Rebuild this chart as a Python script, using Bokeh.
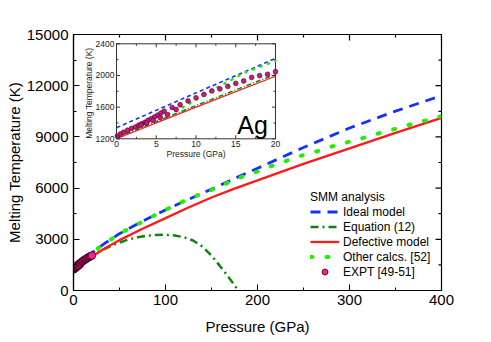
import numpy as np
from bokeh.plotting import figure
from bokeh.models import Range1d, SingleIntervalTicker, Legend, LegendItem
from bokeh.core.properties import value
from bokeh.embed import file_html
from bokeh.resources import INLINE

# ---------------- data ----------------
ideal_p = [0, 10, 20, 35, 50, 75, 100, 125, 150, 175, 200, 250, 300, 350, 400]
ideal_t = [1340, 1780, 2215, 2800, 3330, 4060, 4720, 5340, 5940, 6560, 7160,
           8380, 9520, 10510, 11420]

eq_p = [0, 10, 20, 30, 40, 50, 60, 70, 80, 90, 100, 110, 120, 130, 140, 150,
        160, 170, 179]
eq_t = [1215, 1620, 2015, 2340, 2590, 2810, 2990, 3120, 3210, 3255, 3265, 3225,
        3120, 2930, 2580, 2050, 1380, 680, 0]

defect_p = [0, 10, 20, 35, 50, 75, 100, 125, 150, 175, 200, 250, 300, 350, 400]
defect_t = [1200, 1600, 1990, 2500, 2950, 3620, 4240, 4860, 5450, 5970, 6450,
            7420, 8330, 9240, 10120]

other_p = [0, 4, 8, 12, 16, 20, 30, 40, 55, 70, 85, 100, 115, 130, 150, 165,
           180, 198, 214, 230, 247, 265, 281, 298, 315, 332, 349, 366, 383, 398]
other_t = [1240, 1400, 1580, 1810, 2030, 2185, 2620, 2970, 3475, 3890, 4320,
           4725, 5120, 5480, 5895, 6250, 6600, 6930, 7265, 7575, 7890, 8160,
           8435, 8690, 8940, 9215, 9460, 9725, 9960, 10190]

expt_p = [0.1, 0.5, 0.9, 1.4, 1.9, 2.4, 2.8, 3.2, 3.6, 4.0, 4.4, 4.8, 5.2, 5.6,
          6.0, 3.1, 3.8, 4.6, 5.5, 6.4, 7.0, 7.5, 8.0, 9.0, 10.0, 11.0, 12.0,
          13.0, 14.0, 15.0, 16.0, 17.0, 18.0, 19.0, 20.0]
expt_t = [1235, 1262, 1283, 1308, 1332, 1350, 1372, 1390, 1410, 1435, 1455,
          1478, 1500, 1525, 1550, 1372, 1400, 1432, 1465, 1505, 1595, 1570,
          1630, 1678, 1718, 1760, 1805, 1830, 1862, 1900, 1930, 1975, 1998,
          2015, 2047]

main_xlim = [0, 400]
main_ylim = [0, 15000]
main_xmajor = [0, 100, 200, 300, 400]
main_xminor = [50, 150, 250, 350]
main_ymajor = [0, 3000, 6000, 9000, 12000, 15000]
main_yminor = [1500, 4500, 7500, 10500, 13500]

inset_xlim = [0, 20]
inset_ylim = [1200, 2400]
inset_xmajor = [0, 5, 10, 15, 20]
inset_xminor = [2.5, 7.5, 12.5, 17.5]
inset_ymajor = [1200, 1600, 2000, 2400]
inset_yminor = [1400, 1800, 2200]

FONT = "Liberation Sans"
BLUE = "#1432ff"
DGREEN = "#0a870a"
RED = "#ff1a1a"
LGREEN = "#22ee00"

p = figure(width=475, height=338, x_range=Range1d(*main_xlim),
           y_range=Range1d(*main_ylim), output_backend="svg",
           toolbar_location=None, min_border_left=73, min_border_right=34,
           min_border_top=34, min_border_bottom=48)
p.grid.visible = False
p.outline_line_color = "black"
p.outline_line_width = 1.2
p.background_fill_color = "white"
p.border_fill_color = "white"

p.xaxis.ticker = SingleIntervalTicker(interval=100, num_minor_ticks=2)
p.yaxis.ticker = SingleIntervalTicker(interval=3000, num_minor_ticks=2)
p.xaxis.axis_label = "Pressure (GPa)"
p.yaxis.axis_label = "Melting Temperature (K)"
for ax in (p.xaxis[0], p.yaxis[0]):
    ax.axis_label_text_font = FONT
    ax.axis_label_text_font_size = "15px"
    ax.axis_label_text_font_style = "normal"
    ax.axis_label_text_color = "black"
    ax.major_label_text_font = FONT
    ax.major_label_text_font_size = "15px"
    ax.major_label_text_color = "black"
    ax.major_tick_in = 6
    ax.major_tick_out = 0
    ax.minor_tick_in = 3
    ax.minor_tick_out = 0
    ax.axis_line_width = 1.2
    ax.axis_line_color = "black"
    ax.major_tick_line_color = "black"
    ax.minor_tick_line_color = "black"
    ax.major_label_standoff = 4
p.xaxis.axis_label_standoff = 10
p.yaxis.major_label_standoff = 5
p.yaxis.axis_label_standoff = 1

# mirrored inward ticks on the top and right edges
mt = dict(length_units="screen", line_color="black", line_width=1.2)
for ticks, ln in ((main_xmajor, 6), (main_xminor, 3)):
    p.ray(ticks, [main_ylim[1]] * len(ticks), length=ln, angle=-np.pi / 2, **mt)
for ticks, ln in ((main_ymajor, 6), (main_yminor, 3)):
    p.ray([main_xlim[1]] * len(ticks), ticks, length=ln, angle=np.pi, **mt)

# ---------------- main curves ----------------
r_blue = p.line(ideal_p, ideal_t, line_color=BLUE, line_width=2.8,
                line_dash="10 7")
r_eq = p.line(eq_p, eq_t, line_color=DGREEN, line_width=2.5,
              line_dash="8 4 2 4")
r_red = p.line(defect_p, defect_t, line_color=RED, line_width=2.3)
r_oth = p.line(other_p, other_t, line_color=LGREEN, line_width=4,
               line_dash="2 14", line_cap="round")
r_exp = p.scatter(expt_p, expt_t, size=7.5, fill_color="#ff1f8f",
                  line_color="#2a0015", line_width=0.8)

legend = Legend(items=[
    LegendItem(label="Ideal model", renderers=[r_blue]),
    LegendItem(label="Equation (12)", renderers=[r_eq]),
    LegendItem(label="Defective model", renderers=[r_red]),
    LegendItem(label="Other calcs. [52]", renderers=[r_oth]),
    LegendItem(label="EXPT [49-51]", renderers=[r_exp]),
], location=(237, 11), title="SMM analysis")
legend.title_text_font = FONT
legend.title_text_font_size = "12px"
legend.title_text_font_style = "normal"
legend.title_text_color = "black"
legend.title_standoff = -3
legend.label_text_font = FONT
legend.label_text_font_size = "12px"
legend.label_text_color = "black"
legend.glyph_width = 29
legend.glyph_height = 15
legend.label_height = 15
legend.label_standoff = 4
legend.spacing = 0
legend.padding = 0
legend.margin = 0
legend.border_line_color = None
legend.background_fill_alpha = 0
p.add_layout(legend)

# ---------------- inset (own scales inside the main frame) ----------------
p.extra_x_ranges = {"ix": Range1d(-5.409, 40.881)}
p.extra_y_ranges = {"iy": Range1d(-716.2, 2517.5)}
IX = dict(x_range_name="ix", y_range_name="iy")

p.quad(left=[inset_xlim[0]], right=[inset_xlim[1]], bottom=[inset_ylim[0]],
       top=[inset_ylim[1]], fill_color="white", line_color="#333333",
       line_width=1, **IX)


def sub(px, py):
    px = np.asarray(px, float)
    py = np.asarray(py, float)
    m = px <= inset_xlim[1]
    return px[m], py[m]


x, y = sub(ideal_p, ideal_t)
p.line(x, y, line_color=BLUE, line_width=1.6, line_dash="4 3", **IX)
x, y = sub(eq_p, eq_t)
p.line(x, y, line_color=DGREEN, line_width=1.5, line_dash="5 2 1 2", **IX)
x, y = sub(defect_p, defect_t)
p.line(x, y, line_color=RED, line_width=1.2, **IX)
x, y = sub(other_p, other_t)
p.line(x, y, line_color=LGREEN, line_width=2.6, line_dash="1 7",
       line_cap="round", **IX)
p.scatter(expt_p, expt_t, size=4.8, fill_color="#c81a78", line_color="#4a0028",
          line_width=0.6, **IX)

# inset ticks (inward)
tick_kw = dict(length_units="screen", line_color="#333333", line_width=1, **IX)
for ticks, ln in ((inset_xmajor, 3.5), (inset_xminor, 2)):
    n = len(ticks)
    p.ray(ticks, [inset_ylim[0]] * n, length=ln, angle=np.pi / 2, **tick_kw)
    p.ray(ticks, [inset_ylim[1]] * n, length=ln, angle=-np.pi / 2, **tick_kw)
for ticks, ln in ((inset_ymajor, 3.5), (inset_yminor, 2)):
    n = len(ticks)
    p.ray([inset_xlim[0]] * n, ticks, length=ln, angle=0, **tick_kw)
    p.ray([inset_xlim[1]] * n, ticks, length=ln, angle=np.pi, **tick_kw)

small = dict(text_font=value(FONT), text_font_size="8.5px", text_color="#222222")
p.text(inset_xmajor, [inset_ylim[0]] * len(inset_xmajor),
       text=[str(v) for v in inset_xmajor], text_align="center",
       text_baseline="top", y_offset=2, **small, **IX)
p.text([inset_xlim[0]] * len(inset_ymajor), inset_ymajor,
       text=[str(v) for v in inset_ymajor], text_align="right",
       text_baseline="middle", x_offset=-2, **small, **IX)
p.text([sum(inset_xlim) / 2], [inset_ylim[0]], text=["Pressure (GPa)"],
       text_align="center", text_baseline="top", y_offset=10, **small, **IX)
p.text([inset_xlim[0]], [sum(inset_ylim) / 2 - 25],
       text=["Melting Temperature (K)"], angle=np.pi / 2, text_align="center",
       text_baseline="middle", x_offset=-27.5, **small, **IX)
p.text([15.2], [1378], text=["Ag"], text_align="left",
       text_baseline="alphabetic", text_font=value(FONT),
       text_font_size="25px", text_color="black", **IX)

open("out.html", "w").write(file_html(p, INLINE))
